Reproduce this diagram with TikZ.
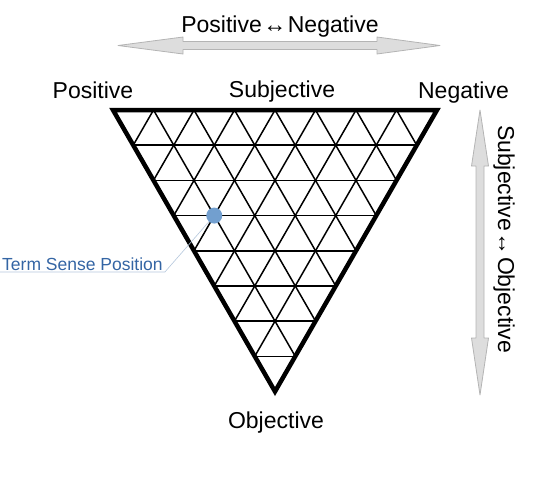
\documentclass[tikz,border=0pt]{standalone}
\usepackage{fontspec}
\setmainfont{Liberation Sans}
\usetikzlibrary{calc}
\definecolor{dotblue}{HTML}{729FCF}
\definecolor{labelblue}{HTML}{3465A4}
\definecolor{leaderblue}{HTML}{B4C7DC}
\definecolor{arrowfill}{HTML}{DDDDDD}
\definecolor{arrowedge}{HTML}{B4B4B4}
\tikzset{
  gridline/.style={line width=1.5pt},
  rim/.style={line width=4.5pt, line join=miter},
  axisarrow/.style={fill=arrowfill, draw=arrowedge, line width=0.8pt, line join=round},
  pole/.style={font=\fontsize{23}{27}\selectfont, inner sep=0pt},
  leader/.style={draw=leaderblue, line width=0.6pt},
}
\newcommand{\twoway}{\kern1.5pt↔\kern1.5pt}

\begin{document}
\begin{tikzpicture}[x=1pt,y=-1pt]
\useasboundingbox (0,0) rectangle (545,480);
\coordinate (P) at (113,110);
\coordinate (N) at (437,110);
\coordinate (O) at (275,391.5);
% triangular grid
\foreach \k in {1,...,7}{
  \draw[gridline] ($(P)!\k/8!(O)$) -- ($(N)!\k/8!(O)$);
  \draw[gridline] ($(P)!\k/8!(N)$) -- ($(O)!\k/8!(N)$);
  \draw[gridline] ($(P)!\k/8!(N)$) -- ($(P)!\k/8!(O)$);
}
\draw[rim] (P) -- (N) -- (O) -- cycle;
\node[pole, anchor=base] (pos) at (93,98) {Positive};
\node[pole, anchor=base] (subj) at (282,97) {Subjective};
\node[pole, anchor=base] (neg) at (463.5,98) {Negative};
\node[pole, anchor=base] (obj) at (276,428) {Objective};
% axis arrows
\draw[axisarrow] (118,45.5) -- (183,37) -- (183,41.5) -- (377,41.5) -- (377,37) -- (440,45.5)
  -- (377,54) -- (377,49.5) -- (183,49.5) -- (183,54) -- cycle;
\draw[axisarrow] (480,110) -- (471.5,166) -- (476,166) -- (476,338) -- (471.5,338) -- (480,395)
  -- (488.5,338) -- (484,338) -- (484,166) -- (488.5,166) -- cycle;
\node[pole, anchor=base] (pn) at (280,32) {Positive\twoway Negative};
\node[pole, rotate=-90] (so) at (504,239) {Subjective\twoway Objective};
% term sense position
\coordinate (h3l) at ($(P)!3/8!(O)$);
\coordinate (h3r) at ($(N)!3/8!(O)$);
\coordinate (tsp) at ($(h3l)!.2!(h3r)$);
\node[font=\fontsize{17.5}{20}\selectfont, text=labelblue, anchor=south west,
  inner xsep=2pt, inner ysep=1pt] (tsplabel) at (0,272) {Term Sense Position};
\draw[leader] (tsp) -- (tsplabel.south east) -- (tsplabel.south west);
\fill[dotblue] (tsp) circle[radius=8];
\end{tikzpicture}
\end{document}
